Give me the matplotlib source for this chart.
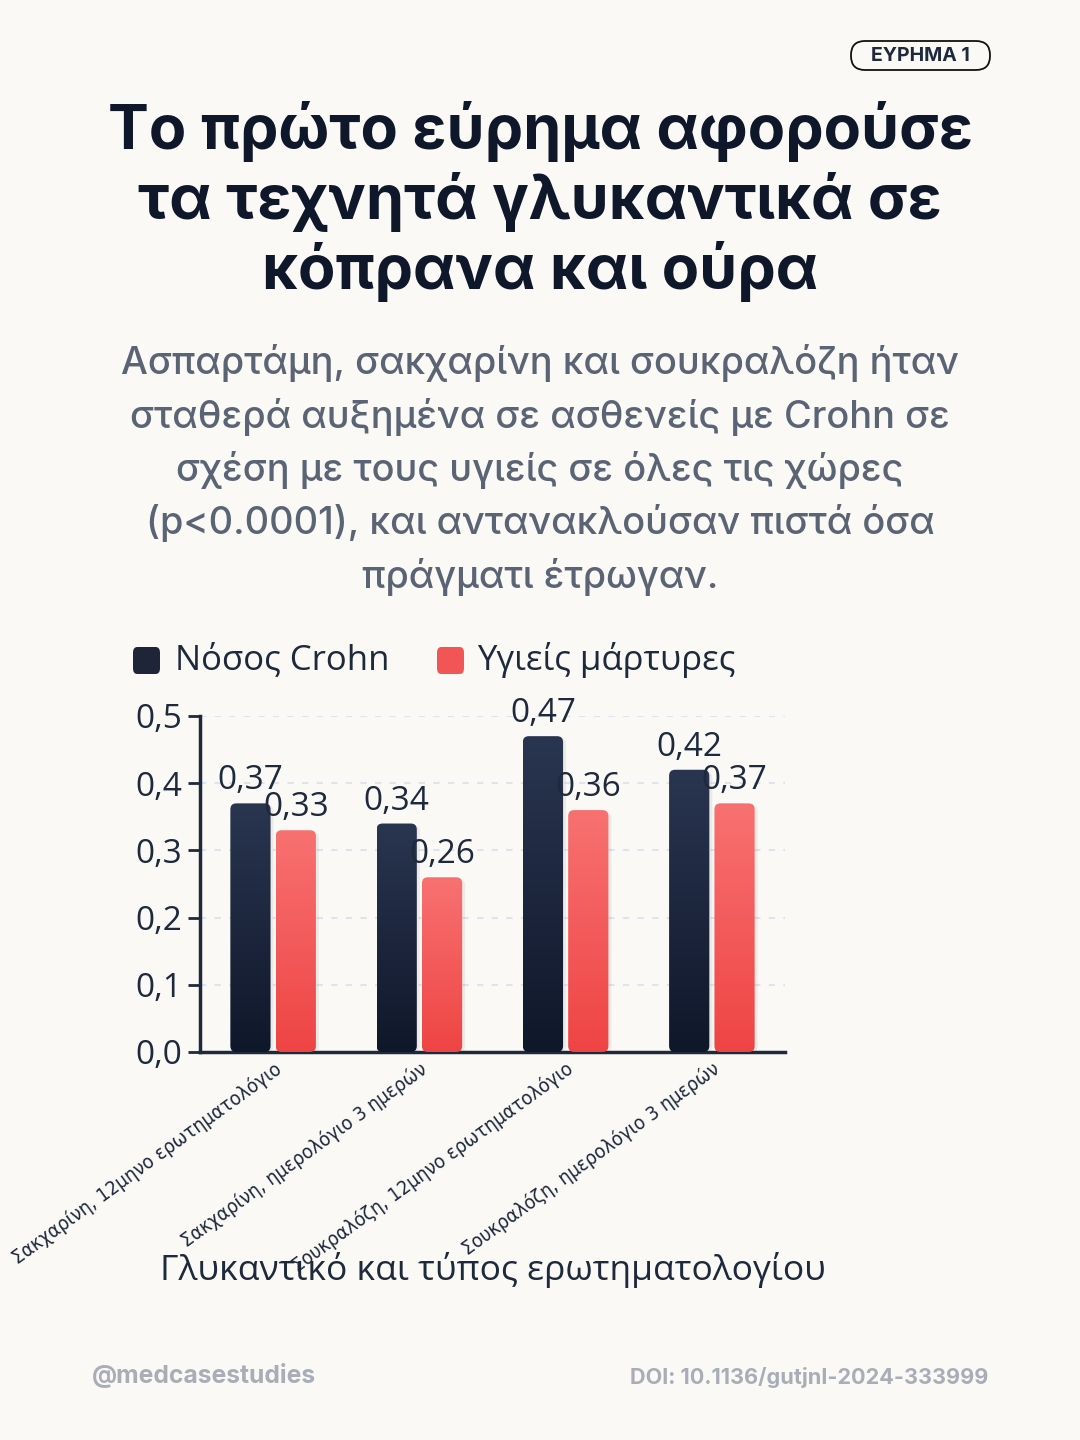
import os
import numpy as np
import matplotlib
matplotlib.use("Agg")
import matplotlib.pyplot as plt
from matplotlib.patches import FancyBboxPatch
from matplotlib.colors import LinearSegmentedColormap
from matplotlib import font_manager
from matplotlib.font_manager import FontProperties
from matplotlib.ft2font import FT2Font

categories = ["Σακχαρίνη, 12μηνο ερωτηματολόγιο",
              "Σακχαρίνη, ημερολόγιο 3 ημερών",
              "Σουκραλόζη, 12μηνο ερωτηματολόγιο",
              "Σουκραλόζη, ημερολόγιο 3 ημερών"]
crohn = [0.37, 0.34, 0.47, 0.42]
healthy = [0.33, 0.26, 0.36, 0.37]
series_names = ["Νόσος Crohn", "Υγιείς μάρτυρες"]
yticks = [0.0, 0.1, 0.2, 0.3, 0.4, 0.5]
ytick_labels = ["0,0", "0,1", "0,2", "0,3", "0,4", "0,5"]


def find_condensed():
    best = None
    for f in font_manager.fontManager.ttflist:
        base = os.path.basename(f.fname).lower()
        nm = f.name.lower()
        if not any(k in nm or k in base for k in ("condensed", "narrow")):
            continue
        if "italic" in base or f.style != "normal":
            continue
        try:
            cmap = FT2Font(f.fname).get_charmap()
        except Exception:
            continue
        if ord("ά") not in cmap or ord("ώ") not in cmap:
            continue
        w = f.weight if isinstance(f.weight, int) else 400
        if any(k in base for k in ("bold", "black", "semibold", "medium")):
            w = max(w, 600)
        if "light" in base or "thin" in base:
            w = min(w, 300)
        score = abs(w - 400)
        if best is None or score < best[0]:
            best = (score, f.fname)
    if best is not None and best[0] <= 101:
        return FontProperties(fname=best[1])
    return FontProperties(family="Open Sans")


xfp = find_condensed()

BG = "#faf9f6"
DARK = "#0f172a"
W, H = 1080, 1440
fig = plt.figure(figsize=(W/100, H/100), dpi=100, facecolor=BG)
renderer = fig.canvas.get_renderer()

def fx(px): return px / W
def fy(py): return 1 - py / H

# Badge
fig.patches.append(FancyBboxPatch((fx(851), fy(70)), fx(139), 29/H,
                                  boxstyle=f"round,pad=0,rounding_size={14/W}",
                                  mutation_aspect=W/H, transform=fig.transFigure,
                                  fc="none", ec="#111111", lw=1.3))
fig.text(fx(920), fy(56), "ΕΥΡΗΜΑ 1", ha="center", va="center", fontsize=14,
         fontweight="bold", color="#1e293b", family="Inter")

# Title
title = ["Το πρώτο εύρημα αφορούσε", "τα τεχνητά γλυκαντικά σε", "κόπρανα και ούρα"]
for i, line in enumerate(title):
    fig.text(fx(540), fy(132 + 70*i), line, ha="center", va="center", fontsize=44,
             fontweight="bold", color=DARK, family="Inter")

sub = ["Ασπαρτάμη, σακχαρίνη και σουκραλόζη ήταν",
       "σταθερά αυξημένα σε ασθενείς με Crohn σε",
       "σχέση με τους υγιείς σε όλες τις χώρες",
       "(p<0.0001), και αντανακλούσαν πιστά όσα",
       "πράγματι έτρωγαν."]
for i, line in enumerate(sub):
    fig.text(fx(540), fy(363 + 53.5*i), line, ha="center", va="center", fontsize=27.3,
             color="#5b6474", family="Inter", fontweight="medium")

# Axes
ax = fig.add_axes([fx(200), fy(1052), fx(785) - fx(200), (1052 - 716) / H])
ax.set_facecolor("none")

cm_dark = LinearSegmentedColormap.from_list("d", ["#0f172a", "#2a3550"])
cm_red = LinearSegmentedColormap.from_list("r", ["#ef4444", "#f87171"])
grad = np.linspace(0, 1, 256).reshape(-1, 1)

bw = 0.275
off = 0.155
x = np.arange(len(categories))
xu_per_px = 4 / 585
yu_per_px = 0.5 / 336
aspect = yu_per_px / xu_per_px

for xs, vals, cmap in [(x - off, crohn, cm_dark), (x + off, healthy, cm_red)]:
    for xi, v in zip(xs, vals):
        sh = FancyBboxPatch((xi - bw/2 + 3*xu_per_px, 0), bw, v - 2*yu_per_px,
                            boxstyle=f"round,pad=0,rounding_size={6*xu_per_px}",
                            mutation_aspect=aspect, fc="#000000", alpha=0.06, ec="none", zorder=2)
        ax.add_patch(sh)
        p = FancyBboxPatch((xi - bw/2, 0), bw, v,
                           boxstyle=f"round,pad=0,rounding_size={6*xu_per_px}",
                           mutation_aspect=aspect, fc="none", ec="none", zorder=3)
        ax.add_patch(p)
        im = ax.imshow(grad, extent=(xi - bw/2, xi + bw/2, 0, v), origin="lower",
                       cmap=cmap, aspect="auto", zorder=3)
        im.set_clip_path(p)
        ax.text(xi, v + 6*yu_per_px, f"{v:.2f}".replace(".", ","), ha="center", va="bottom",
                fontsize=24, color="#1e293b", family="Open Sans", zorder=5)

ax.set_xlim(-0.5, len(categories) - 0.5)
ax.set_ylim(0, 0.5)

for yt in yticks[1:]:
    ax.axhline(yt, color="#dfe2ef", lw=1.5, ls=(0, (3, 4)), zorder=1)

ax.set_yticks(yticks)
ax.set_yticklabels(ytick_labels, fontsize=24, color="#1e293b", family="Open Sans")
ax.tick_params(axis="y", length=9, width=2, color="#1e293b", pad=4)
ax.set_xticks(x)

# size x labels so the first label spans about 330 px, like the reference
xfp.set_size(16)
probe = fig.text(0, 0, categories[0], fontproperties=xfp)
wpx = probe.get_window_extent(renderer).width
probe.remove()
xfp.set_size(16 * 330 / wpx)
ax.set_xticklabels(categories, rotation=36, ha="right", rotation_mode="anchor",
                   fontproperties=xfp, color="#1e293b")
ax.tick_params(axis="x", length=0, pad=5)
for s in ["top", "right"]:
    ax.spines[s].set_visible(False)
for s in ["left", "bottom"]:
    ax.spines[s].set_color("#1e293b")
    ax.spines[s].set_linewidth(2.5)

# x-axis title
fig.text(fx(493), fy(1270), "Γλυκαντικό και τύπος ερωτηματολογίου", ha="center", va="center",
         fontsize=25.5, color="#1e293b", family="Open Sans")

# Legend
for (sx, tx, name, c) in [(133, 175, series_names[0], "#1e2538"), (437, 477, series_names[1], "#f25555")]:
    fig.patches.append(FancyBboxPatch((fx(sx), fy(674)), fx(27), 27/H,
                                      boxstyle="round,pad=0,rounding_size=0.004",
                                      transform=fig.transFigure, fc=c, ec="none"))
    fig.text(fx(tx), fy(660), name, ha="left", va="center", fontsize=25,
             color="#1e293b", family="Open Sans")

# Footer
fig.text(fx(92), fy(1376), "@medcasestudies", ha="left", va="center", fontsize=17.8,
         fontweight="bold", color="#a9adb7", family="Inter")
fig.text(fx(988), fy(1378), "DOI: 10.1136/gutjnl-2024-333999", ha="right", va="center",
         fontsize=15.6, fontweight="bold", color="#a9adb7", family="Inter")

fig.savefig("out.png", dpi=100, facecolor=BG)
